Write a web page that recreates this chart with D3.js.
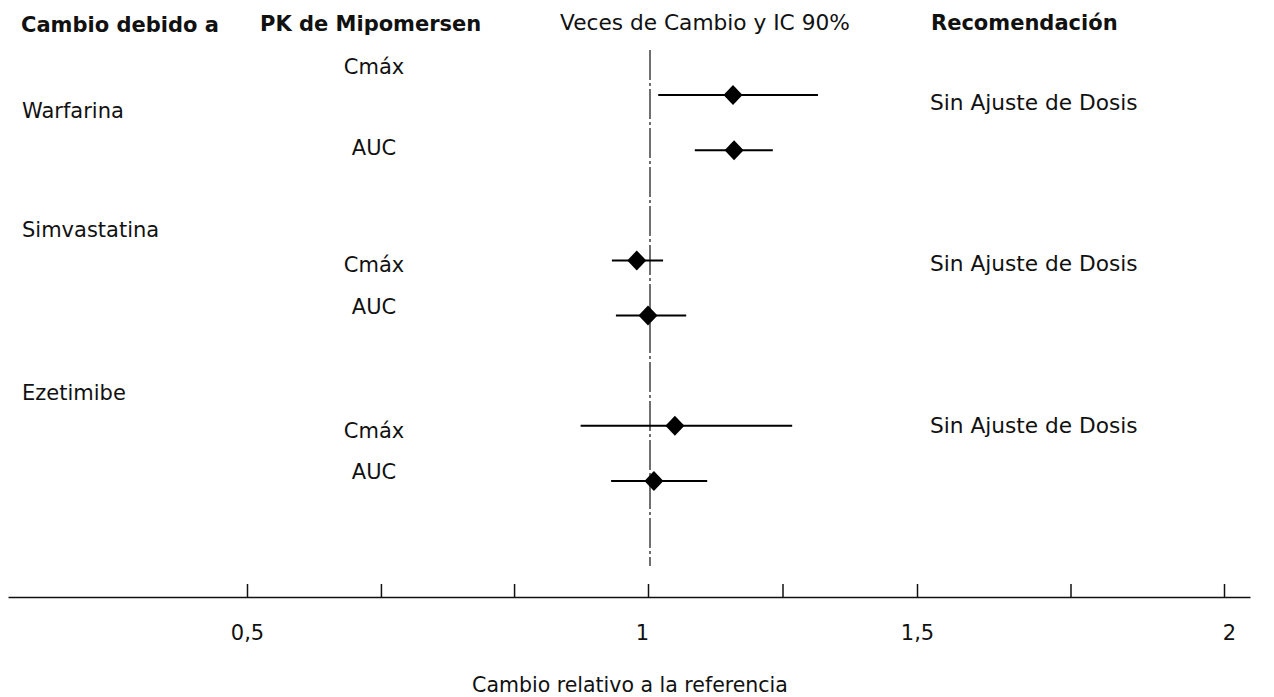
<!DOCTYPE html>
<meta charset="utf-8">
<style>
    body { margin: 0; background: #fff; }
    text { font-family: "DejaVu Sans", Verdana, sans-serif; font-size: 21px; fill: #111; }
    .head { font-weight: bold; }
    .wide { font-size: 21.7px; }
    .axis path, .axis line { stroke: #111; stroke-width: 1.5px; }
    .axis text { font-size: 21px; }
    .ci { stroke: #000; stroke-width: 2px; }
    .ref { stroke: #111; stroke-width: 1.2px; stroke-dasharray: 30,3,3,3; }
</style>
<svg width="1274" height="697"></svg>
<script src="https://d3js.org/d3.v7.min.js"></script>
<script>

    // data
    var drugs = ["Warfarina", "Simvastatina", "Ezetimibe"];
    var params = ["Cmáx", "AUC"];
    var estimate = [1.158, 1.16, 0.986, 1.0, 1.05, 1.011];
    var lower = [1.019, 1.087, 0.955, 0.96, 0.916, 0.954];
    var upper = [1.316, 1.232, 1.028, 1.071, 1.268, 1.11];
    var recommendation = ["Sin Ajuste de Dosis", "Sin Ajuste de Dosis", "Sin Ajuste de Dosis"];
    var tickValues = [0.5, 0.667, 0.833, 1, 1.25, 1.5, 1.75, 2];
    var tickLabels = {0.5: "0,5", 1: "1", 1.5: "1,5", 2: "2"};

    var svg = d3.select("svg");

    // the printed axis is not evenly spaced, so use a piecewise scale
    var x = d3.scaleLinear()
            .domain([0.3, 0.5, 1, 1.5, 2, 2.085])
            .range([8, 247, 648, 917, 1224, 1250]);

    var rowKeys = [];
    drugs.forEach(function(d, i) {
        if (i > 0) rowKeys.push("gap" + i);
        params.forEach(function(p) { rowKeys.push(d + "|" + p); });
    });
    var y = d3.scalePoint().domain(rowKeys).range([95, 481]);

    var rows = [];
    drugs.forEach(function(d, i) {
        params.forEach(function(p, j) {
            var k = i * 2 + j;
            rows.push({drug: d, param: p, est: estimate[k], lo: lower[k], hi: upper[k], key: d + "|" + p});
        });
    });

    // headers
    svg.append("text").attr("class", "head").attr("x", 21).attr("y", 32).text("Cambio debido a");
    svg.append("text").attr("class", "head").attr("x", 260).attr("y", 31).text("PK de Mipomersen");
    svg.append("text").attr("class", "wide").attr("x", 560).attr("y", 30).text("Veces de Cambio y IC 90%");
    svg.append("text").attr("class", "head").attr("x", 931).attr("y", 30).text("Recomendación");

    // drug labels and recommendations
    var drugOffset = [15, -31, -34];
    var recOffset = [8, 4, 0];
    drugs.forEach(function(d, i) {
        var y0 = y(d + "|" + params[0]);
        svg.append("text").attr("x", 22).attr("y", y0 + drugOffset[i] + 8).text(d);
        svg.append("text").attr("class", "wide").attr("x", 930).attr("y", y0 + recOffset[i] + 7).text(recommendation[i]);
    });

    // PK labels
    var pkOffset = [-28, -2, 5, -9, 5, -9];
    svg.append("g").selectAll("text")
            .data(rows)
            .enter().append("text")
            .attr("x", 374)
            .attr("y", function(d, i) { return y(d.key) + pkOffset[i] + 7; })
            .attr("text-anchor", "middle")
            .text(function(d) { return d.param; });

    // reference line at 1
    svg.append("line").attr("class", "ref")
            .attr("x1", x(1) + 2).attr("x2", x(1) + 2)
            .attr("y1", 50).attr("y2", 566);

    // CI lines
    svg.append("g").selectAll("line")
            .data(rows)
            .enter().append("line")
            .attr("class", "ci")
            .attr("x1", function(d) { return x(d.lo); })
            .attr("x2", function(d) { return x(d.hi); })
            .attr("y1", function(d) { return y(d.key); })
            .attr("y2", function(d) { return y(d.key); });

    // point estimates
    svg.append("g").selectAll("path")
            .data(rows)
            .enter().append("path")
            .attr("d", "M0,-10L9.5,0L0,10L-9.5,0Z")
            .attr("fill", "#000")
            .attr("transform", function(d) { return "translate(" + x(d.est) + "," + y(d.key) + ")"; });

    // x axis
    var axis = d3.axisBottom(x)
            .tickValues(tickValues)
            .tickSizeInner(-13)
            .tickSizeOuter(0)
            .tickPadding(28)
            .tickFormat(function(d) { return tickLabels[d] || ""; });

    svg.append("g")
            .attr("class", "axis")
            .attr("transform", "translate(0,597)")
            .call(axis)
            .call(function(g) {
                g.selectAll("text").attr("fill", "#111").style("font-family", "DejaVu Sans, sans-serif")
                        .attr("dx", function(d) { return d === 1 ? -6 : d === 2 ? 5 : 0; });
            });

    svg.append("text")
            .attr("x", 630).attr("y", 692)
            .attr("text-anchor", "middle")
            .style("font-size", "20.5px")
            .text("Cambio relativo a la referencia");

</script>
